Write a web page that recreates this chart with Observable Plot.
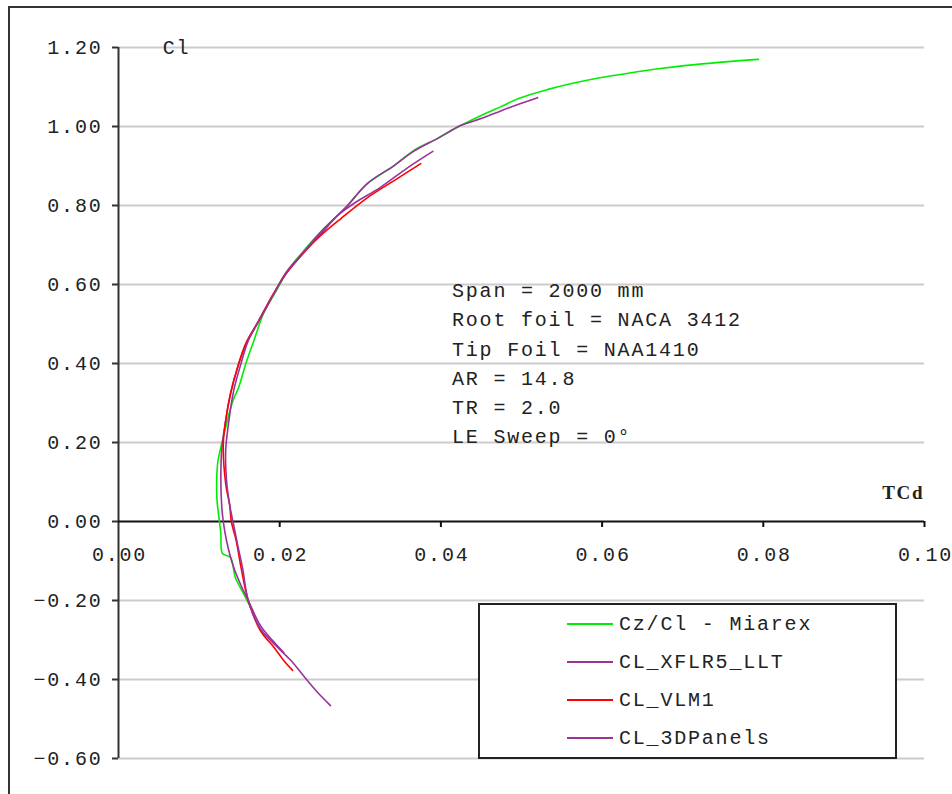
<!DOCTYPE html>
<html>
<head>
<meta charset="utf-8">
<script src="https://cdn.jsdelivr.net/npm/d3@7"></script>
<script src="https://cdn.jsdelivr.net/npm/@observablehq/plot@0.6"></script>
<style>
  html, body { margin: 0; padding: 0; background: #fff; overflow: hidden; width: 952px; height: 794px; }
  #wrap { position: relative; width: 952px; height: 794px; overflow: hidden; }
  #frame { position: absolute; left: 8px; top: 6px; width: 2000px; height: 2000px; border: 2px solid #333; box-sizing: border-box; pointer-events: none; }
  #chart { position: absolute; left: 0; top: 0; }
  #chart svg text { letter-spacing: 1.8px; }
  .mono { font-family: "Liberation Mono", "DejaVu Sans Mono", monospace; font-size: 20px; letter-spacing: 1.8px; color: #222; }
  #notes { position: absolute; left: 452px; top: 277px; line-height: 29.3px; white-space: pre; }
  #legend { position: absolute; left: 478px; top: 603px; width: 419px; height: 156px; border: 2px solid #222; box-sizing: border-box; background: #fff; }
  .row { height: 38px; display: flex; align-items: center; padding-left: 87px; white-space: pre; }
  .swatch { width: 46px; height: 2px; margin-right: 6px; }
</style>
</head>
<body>
<div id="wrap">
  <div id="chart"></div>
  <div id="notes" class="mono"></div>
  <div id="legend" class="mono"></div>
  <div id="frame"></div>
</div>
<script>
// ---- Data ----
const miarexCd = [0.0794,0.0748,0.0702,0.0670,0.0636,0.0599,0.0565,0.0533,0.0499,0.0475,0.0450,0.0425,0.0396,0.0366,0.0342,0.0309,0.0284,0.0255,0.0230,0.0210,0.0198,0.0180,0.0168,0.0158,0.0149,0.0142,0.0129,0.0123,0.0122,0.0124,0.0127,0.0129,0.0139,0.0145,0.0155,0.0164];
const miarexCl = [1.170,1.163,1.154,1.146,1.136,1.124,1.110,1.094,1.073,1.051,1.028,1.003,0.970,0.939,0.901,0.856,0.800,0.742,0.686,0.635,0.592,0.527,0.458,0.400,0.339,0.306,0.205,0.147,0.061,0.020,-0.030,-0.081,-0.091,-0.142,-0.182,-0.218];

const lltCd = [0.0390,0.0359,0.0325,0.0292,0.0272,0.0253,0.0229,0.0207,0.0191,0.0174,0.0159,0.0148,0.0139,0.0133,0.0128,0.0127,0.0128,0.0130,0.0134,0.0142,0.0152,0.0161,0.0176,0.0191,0.0205];
const lltCl = [0.937,0.896,0.846,0.805,0.775,0.732,0.678,0.625,0.572,0.509,0.453,0.392,0.324,0.256,0.180,0.104,0.041,0.000,-0.048,-0.111,-0.162,-0.200,-0.263,-0.301,-0.332];

const vlmCd = [0.0375,0.0342,0.0309,0.0276,0.0251,0.0226,0.0207,0.0189,0.0173,0.0158,0.0148,0.0139,0.0133,0.0130,0.0133,0.0138,0.0140,0.0146,0.0152,0.0161,0.0176,0.0193,0.0205,0.0216];
const vlmCl = [0.906,0.863,0.820,0.767,0.724,0.673,0.625,0.565,0.504,0.451,0.392,0.324,0.256,0.197,0.096,0.041,0.000,-0.048,-0.116,-0.200,-0.276,-0.319,-0.352,-0.377];

const panelCd = [0.0520,0.0499,0.0475,0.0450,0.0425,0.0396,0.0366,0.0342,0.0309,0.0282,0.0253,0.0229,0.0207,0.0193,0.0176,0.0161,0.0152,0.0143,0.0137,0.0133,0.0134,0.0138,0.0143,0.0148,0.0154,0.0161,0.0176,0.0195,0.0214,0.0232,0.0248,0.0263];
const panelCl = [1.073,1.058,1.040,1.020,1.003,0.970,0.937,0.901,0.856,0.795,0.737,0.681,0.628,0.577,0.514,0.458,0.400,0.332,0.256,0.180,0.104,0.041,-0.010,-0.061,-0.119,-0.200,-0.271,-0.314,-0.352,-0.397,-0.435,-0.466];

const seriesNames = ["Cz/Cl - Miarex", "CL_XFLR5_LLT", "CL_VLM1", "CL_3DPanels"];
const seriesColors = ["#00ee00", "#993399", "#ff0000", "#993399"];

const xTicks = [0, 0.02, 0.04, 0.06, 0.08, 0.10];
const yTicks = [-0.6, -0.4, -0.2, 0, 0.2, 0.4, 0.6, 0.8, 1.0, 1.2];

const notes = ["Span = 2000 mm", "Root foil = NACA 3412", "Tip Foil = NAA1410", "AR = 14.8", "TR = 2.0", "LE Sweep = 0°"];

// ---- Build rows ----
const cds = [miarexCd, lltCd, vlmCd, panelCd];
const cls = [miarexCl, lltCl, vlmCl, panelCl];
const rows = seriesNames.map((name, i) => cds[i].map((cd, j) => ({series: name, cd, cl: cls[i][j]})));

const fmt = d => (d < 0 ? "\u2212" : "") + Math.abs(d).toFixed(2);

const chart = Plot.plot({
  width: 952,
  height: 794,
  marginLeft: 118,
  marginRight: 28,
  marginTop: 47,
  marginBottom: 36,
  x: {domain: [0, 0.1], axis: null},
  y: {domain: [-0.6, 1.2]},
  style: {fontFamily: "'Liberation Mono', 'DejaVu Sans Mono', monospace", fontSize: "20px", color: "#222", background: "transparent", overflow: "visible"},
  marks: [
    Plot.ruleY(yTicks.filter(d => d !== 0), {stroke: "#cccccc", strokeWidth: 2}),
    Plot.ruleX([0], {stroke: "#333", strokeWidth: 2}),
    Plot.ruleY([0], {stroke: "#111", strokeWidth: 2}),
    Plot.ruleX(xTicks.filter(d => d > 0), {x: d => d, y1: 0, y2: -0.0152, stroke: "#111", strokeWidth: 2}),
    Plot.axisY(yTicks, {tickSize: 6, tickPadding: 10, tickFormat: fmt, strokeWidth: 2, stroke: "#333", label: null}),
    Plot.text(xTicks, {x: d => d, y: 0, text: d => d.toFixed(2), dy: 33, dx: 1, textAnchor: "middle", fill: "#222"}),
    ...rows.map((r, i) => Plot.line(r, {x: "cd", y: "cl", stroke: seriesColors[i], strokeWidth: 1.6, curve: "catmull-rom"})),
    Plot.text(["Cl"], {frameAnchor: "top-left", lineAnchor: "middle", dx: 58, dy: 0, text: d => d, textAnchor: "middle", fill: "#222"}),
    Plot.text(["TCd"], {frameAnchor: "right", dx: 0, dy: -29, y: 0, text: d => d, textAnchor: "end", fontFamily: "'Liberation Serif', serif", fontWeight: "bold", fontSize: 19, fill: "#222"})
  ]
});
document.getElementById("chart").appendChild(chart);

// annotation block
document.getElementById("notes").textContent = notes.join("\n");

// legend
const legend = document.getElementById("legend");
seriesNames.forEach((name, i) => {
  const row = document.createElement("div");
  row.className = "row";
  const sw = document.createElement("span");
  sw.className = "swatch";
  sw.style.background = seriesColors[i];
  const t = document.createElement("span");
  t.textContent = name;
  row.appendChild(sw);
  row.appendChild(t);
  legend.appendChild(row);
});
</script>
</body>
</html>
